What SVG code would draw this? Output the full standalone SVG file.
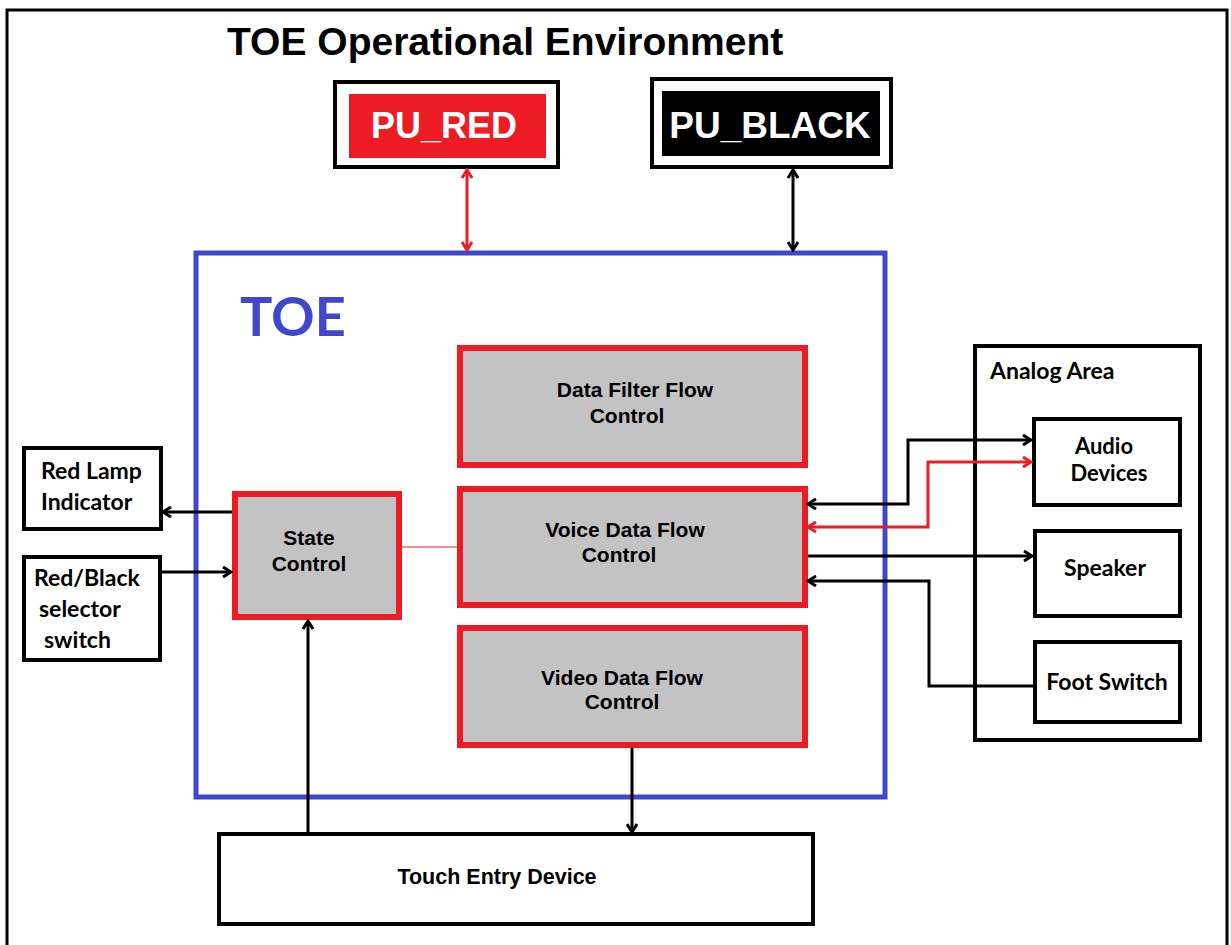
<svg xmlns="http://www.w3.org/2000/svg" width="1231" height="945" viewBox="0 0 1231 945">
<style>
.a{font-family:"Liberation Sans",Arial,sans-serif;font-weight:bold;fill:#000}
.c{font-family:Lato,"Liberation Sans",sans-serif;font-weight:bold;fill:#000}
.blk{fill:#fff;stroke:#000;stroke-width:4}
.flow{fill:#C3C3C3;stroke:#ED1C24;stroke-width:6}
.ln{fill:none;stroke:#000;stroke-width:3}
.rl{fill:none;stroke:#ED1C24;stroke-width:3}
</style>
<defs>
<marker id="ab" markerUnits="userSpaceOnUse" markerWidth="12" markerHeight="12" refX="10" refY="6" orient="auto-start-reverse">
<path d="M2,1 L10,6 L2,11" fill="none" stroke="#000" stroke-width="3"/>
</marker>
<marker id="ar" markerUnits="userSpaceOnUse" markerWidth="12" markerHeight="12" refX="10" refY="6" orient="auto-start-reverse">
<path d="M2,1 L10,6 L2,11" fill="none" stroke="#ED1C24" stroke-width="3"/>
</marker>
</defs>
<rect width="1231" height="945" fill="#fff"/>
<rect x="7" y="10" width="1220" height="960" fill="none" stroke="#000" stroke-width="3"/>
<text class="a" x="227" y="55" font-size="39">TOE Operational Environment</text>

<g id="pu_red">
<rect class="blk" x="335" y="82" width="223" height="85"/>
<rect x="349" y="94" width="197" height="64" fill="#ED1C24"/>
<text x="444" y="138" font-size="36" text-anchor="middle" style="font-family:'Liberation Sans',Arial,sans-serif;font-weight:bold;fill:#fff">PU_RED</text>
</g>
<g id="pu_black">
<rect class="blk" x="652" y="79" width="239" height="88"/>
<rect x="662" y="91" width="218" height="65" fill="#000"/>
<text x="770" y="138" font-size="37" text-anchor="middle" style="font-family:'Liberation Sans',Arial,sans-serif;font-weight:bold;fill:#fff">PU_BLACK</text>
</g>

<g id="toe">
<rect x="196" y="253" width="689" height="544" fill="none" stroke="#3F48CC" stroke-width="5"/>
<text x="240" y="336" font-size="54" style="font-family:Lato,'Liberation Sans',sans-serif;font-weight:bold;fill:#3F48CC">TOE</text>
</g>

<g id="data_filter">
<rect class="flow" x="460" y="348" width="345" height="117"/>
<text class="a" font-size="21" text-anchor="middle"><tspan x="635" y="397">Data Filter Flow</tspan><tspan x="627" y="423">Control</tspan></text>
</g>
<g id="voice">
<rect class="flow" x="460" y="489" width="345" height="116"/>
<text class="a" font-size="21" text-anchor="middle"><tspan x="625" y="537">Voice Data Flow</tspan><tspan x="619" y="562">Control</tspan></text>
</g>
<g id="video">
<rect class="flow" x="460" y="628" width="345" height="117"/>
<text class="a" font-size="21" text-anchor="middle"><tspan x="622" y="685">Video Data Flow</tspan><tspan x="622" y="709">Control</tspan></text>
</g>
<g id="state">
<rect class="flow" x="235" y="494" width="164" height="123"/>
<text class="a" font-size="21" text-anchor="middle"><tspan x="309" y="545">State</tspan><tspan x="309" y="571">Control</tspan></text>
</g>

<g id="red_lamp">
<rect class="blk" x="24" y="448" width="137" height="81"/>
<text class="c" font-size="23"><tspan x="41" y="479">Red Lamp</tspan><tspan x="41" y="510">Indicator</tspan></text>
</g>
<g id="selector">
<rect class="blk" x="24" y="557" width="136" height="103"/>
<text class="c" font-size="23"><tspan x="34" y="586">Red/Black</tspan><tspan x="39" y="617">selector</tspan><tspan x="44" y="648">switch</tspan></text>
</g>

<g id="touch">
<rect class="blk" x="219" y="834" width="594" height="90"/>
<text class="a" font-size="21.5" text-anchor="middle" x="497" y="884">Touch Entry Device</text>
</g>

<g id="analog">
<rect class="blk" x="975" y="346" width="225" height="394"/>
<text class="c" font-size="23" x="990" y="379">Analog Area</text>
</g>
<g id="audio">
<rect class="blk" x="1034" y="419" width="146" height="86"/>
<text class="c" font-size="22" text-anchor="middle"><tspan x="1104" y="454">Audio</tspan><tspan x="1109" y="481">Devices</tspan></text>
</g>
<g id="speaker">
<rect class="blk" x="1035" y="531" width="145" height="85"/>
<text class="c" font-size="23" text-anchor="middle" x="1105" y="576">Speaker</text>
</g>
<g id="foot">
<rect class="blk" x="1035" y="642" width="145" height="80"/>
<text class="c" font-size="23" text-anchor="middle" x="1107" y="690">Foot Switch</text>
</g>

<g id="connectors">
<line class="rl" x1="467" y1="170" x2="467" y2="250" marker-start="url(#ar)" marker-end="url(#ar)"/>
<line class="ln" x1="793" y1="170" x2="793" y2="250" marker-start="url(#ab)" marker-end="url(#ab)"/>
<line x1="402" y1="547" x2="457" y2="547" stroke="#ED1C24" stroke-width="1.2"/>
<line class="ln" x1="232" y1="512" x2="163" y2="512" marker-end="url(#ab)"/>
<line class="ln" x1="162" y1="572" x2="231" y2="572" marker-end="url(#ab)"/>
<line class="ln" x1="308" y1="834" x2="308" y2="621" marker-end="url(#ab)"/>
<line class="ln" x1="632" y1="748" x2="632" y2="832" marker-end="url(#ab)"/>
<polyline class="ln" points="808,504 908,504 908,440 1031,440" marker-start="url(#ab)" marker-end="url(#ab)"/>
<polyline class="rl" points="808,527 928,527 928,462 1031,462" marker-start="url(#ar)" marker-end="url(#ar)"/>
<line class="ln" x1="808" y1="556" x2="1032" y2="556" marker-end="url(#ab)"/>
<polyline class="ln" points="1035,686 929,686 929,581 808,581" marker-end="url(#ab)"/>
</g>
</svg>
